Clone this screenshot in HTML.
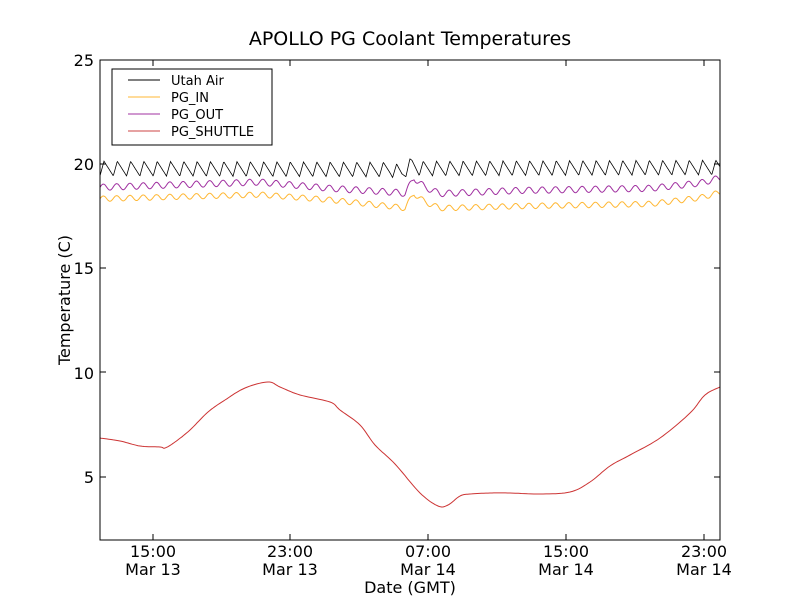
<!DOCTYPE html>
<html><head><meta charset="utf-8"><style>
body{margin:0;background:#fff;}
svg text{font-family:"DejaVu Sans","Liberation Sans",sans-serif;}
</style></head><body>
<svg id="s" width="800" height="600" xmlns="http://www.w3.org/2000/svg">
<rect width="800" height="600" fill="#fff"/>
<text x="410" y="45" font-size="19" text-anchor="middle">APOLLO PG Coolant Temperatures</text>
<g id="lines"></g>
<rect x="100" y="60" width="620" height="480" fill="none" stroke="#000" stroke-width="1"/>
<g id="ticks" stroke="#000" stroke-width="1"></g>
<g font-size="16" text-anchor="end">
<text x="94" y="66">25</text><text x="94" y="170">20</text><text x="94" y="274">15</text><text x="94" y="379">10</text><text x="94" y="483">5</text>
</g>
<g font-size="16" text-anchor="middle">
<text x="153" y="557">15:00</text><text x="153" y="575">Mar 13</text>
<text x="290" y="557">23:00</text><text x="290" y="575">Mar 13</text>
<text x="428" y="557">07:00</text><text x="428" y="575">Mar 14</text>
<text x="566" y="557">15:00</text><text x="566" y="575">Mar 14</text>
<text x="704" y="557">23:00</text><text x="704" y="575">Mar 14</text>
<text x="410" y="593">Date (GMT)</text>
</g>
<text x="0" y="0" font-size="16" text-anchor="middle" transform="translate(70,300) rotate(-90)">Temperature (C)</text>
<rect x="112" y="69" width="160" height="76" fill="#fff" stroke="#000" stroke-width="1"/>
<line x1="128" y1="80" x2="160" y2="80" stroke="#000"/>
<line x1="128" y1="97" x2="160" y2="97" stroke="#ffb733"/>
<line x1="128" y1="114" x2="160" y2="114" stroke="#a030a0"/>
<line x1="128" y1="131" x2="160" y2="131" stroke="#cc4444"/>
<g font-size="13"><text x="171" y="85">Utah Air</text><text x="171" y="102">PG_IN</text><text x="171" y="119">PG_OUT</text><text x="171" y="136">PG_SHUTTLE</text></g>
</svg>
<script>
function Y(v){return 60+(25-v)*20.87;}
function interp(pts,x){for(var i=0;i<pts.length-1;i++){if(x<=pts[i+1][0]){var a=pts[i],b=pts[i+1];return a[1]+(b[1]-a[1])*(x-a[0])/(b[0]-a[0]);}}return pts[pts.length-1][1];}
var P=13.3;
function series(base,amp,saw,col,sw){var d="";for(var x=100;x<=720;x+=0.5){var ph=((x-100)%P)/P;var w;if(saw){w=ph<0.3?ph/0.3:1-(ph-0.3)/0.7;w=w*2-1;}else w=Math.sin(ph*2*Math.PI);var v=interp(base,x)+amp*w;d+=(x==100?"M":"L")+x+","+Y(v).toFixed(1);}return '<path d="'+d+'" fill="none" stroke="'+col+'" stroke-width="'+sw+'"/>';}
var air=[[100,19.8],[390,19.75],[402,19.6],[412,20.0],[420,19.8],[720,19.85]];
var out=[[100,18.9],[260,19.15],[330,18.85],[398,18.65],[405,18.6],[414,19.35],[425,18.9],[440,18.6],[520,18.75],[650,18.85],[700,19.1],[720,19.35]];
var inn=[[100,18.35],[260,18.55],[330,18.3],[398,17.95],[405,17.9],[414,18.6],[425,18.2],[440,17.9],[520,18.0],[650,18.1],[700,18.4],[720,18.65]];
var sh=[[100,438],[120,441],[140,446],[160,447],[165,448],[175,442],[190,430],[208,412],[225,400],[245,388],[268,382],[280,387],[300,395],[330,402],[340,410],[360,425],[375,445],[395,464],[420,493],[438,506],[448,505],[460,496],[470,494],[490,493],[510,493],[540,494],[570,492],[590,482],[610,466],[630,455],[660,438],[690,413],[705,395],[720,387]];
var sd="M"+sh[0][0]+","+sh[0][1];
for(var i=0;i<sh.length-1;i++){var p0=sh[Math.max(0,i-1)],p1=sh[i],p2=sh[i+1],p3=sh[Math.min(sh.length-1,i+2)];
for(var t=0.1;t<=1.001;t+=0.1){var t2=t*t,t3=t2*t;
var x=0.5*(2*p1[0]+(-p0[0]+p2[0])*t+(2*p0[0]-5*p1[0]+4*p2[0]-p3[0])*t2+(-p0[0]+3*p1[0]-3*p2[0]+p3[0])*t3);
var y=0.5*(2*p1[1]+(-p0[1]+p2[1])*t+(2*p0[1]-5*p1[1]+4*p2[1]-p3[1])*t2+(-p0[1]+3*p1[1]-3*p2[1]+p3[1])*t3);
sd+="L"+x.toFixed(1)+","+y.toFixed(1);}}
var g=series(inn,0.13,false,"#ffb733",1)+series(out,0.15,false,"#a030a0",1)+series(air,0.35,true,"#000",0.8)+'<path d="'+sd+'" fill="none" stroke="#cc3333" stroke-width="1"/>';
document.getElementById("lines").innerHTML=g;
var tk="";[60,164,268,372,477].forEach(function(y){tk+='<line x1="100" y1="'+y+'" x2="106" y2="'+y+'"/><line x1="714" y1="'+y+'" x2="720" y2="'+y+'"/>';});
[153,290,428,566,704].forEach(function(x){tk+='<line x1="'+x+'" y1="540" x2="'+x+'" y2="534"/><line x1="'+x+'" y1="60" x2="'+x+'" y2="66"/>';});
document.getElementById("ticks").innerHTML=tk;
</script>
</body></html>
